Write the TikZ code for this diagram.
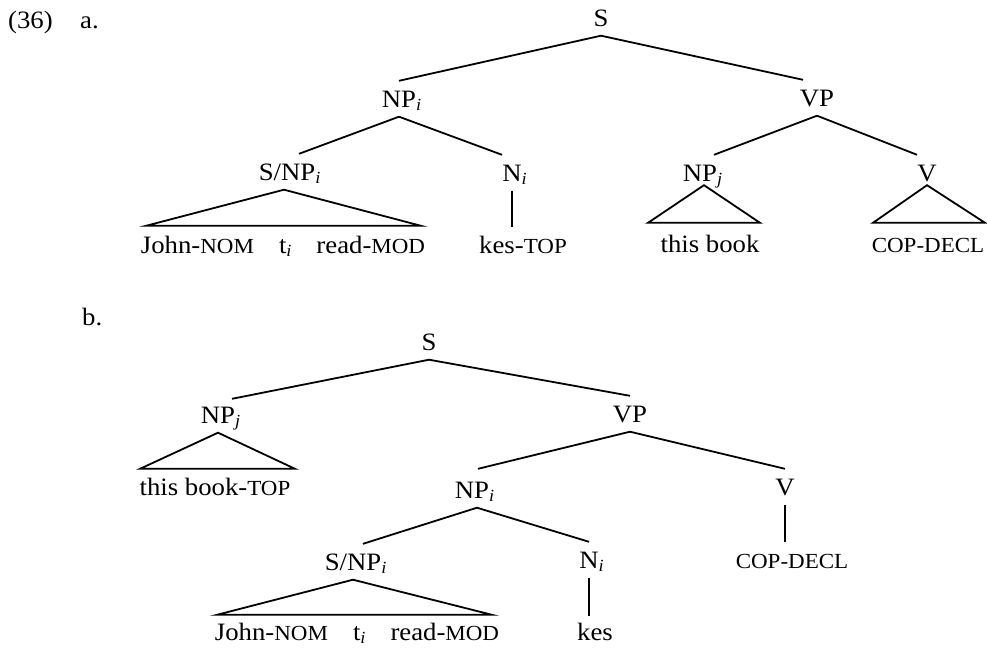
\documentclass[tikz,border=0pt]{standalone}
\usepackage{fontspec}
\setmainfont[FakeStretch=1.07]{Liberation Serif}
\newcommand{\smc}[1]{{\fontsize{21.5}{21.5}\selectfont #1}}
\newcommand{\mysub}[1]{\raisebox{-3.5pt}{\fontsize{17}{17}\selectfont\itshape #1}}
\newcommand{\rsub}[1]{\rlap{\mysub{#1}}}
\begin{document}
\begin{tikzpicture}[x=1pt,y=-1pt,
  every node/.style={font=\fontsize{25}{25}\selectfont, inner xsep=0pt, inner ysep=9.5pt,
    text height=16.5pt, text depth=0pt, anchor=base},
  leaf/.style={inner ysep=0pt, text height=26pt, text depth=0pt},
  branch/.style={line width=1.8pt, line join=miter}]
\useasboundingbox (0,0) rectangle (987,648);

% ---------- (36) a.
\node[anchor=base west] (num) at (8,28) {(36)};
\node[anchor=base west] (laba) at (80,28) {a.};

\node (aS)   at (601,26)  {S};
\node (aNPi) at (399,107) {NP\rsub{i}};
\node (aVP)  at (817,106) {VP};
\node (aSNP) at (287,180) {S/NP\rsub{i}};
\node (aNi)  at (512,181) {N\rsub{i}};
\node (aNPj) at (700,181) {NP\rsub{j}};
\node (aV)   at (927,181) {V};
\node[leaf] (aL1)  at (283,253) {John-\smc{NOM}\quad t\mysub{i}\quad read-\smc{MOD}};
\node[leaf] (aL2)  at (523,253) {kes-\smc{TOP}};
\node[leaf] (aL3)  at (710,252) {this book};
\node[leaf] (aL4)  at (928,252) {\smc{COP-DECL}};

\draw[branch] (aS.south) -- (aNPi.north);
\draw[branch] (aS.south) -- ([xshift=-14pt]aVP.north);
\draw[branch] (aNPi.south) -- ([xshift=12pt]aSNP.north);
\draw[branch] (aNPi.south) -- ([xshift=-10pt]aNi.north);
\draw[branch] (aVP.south) -- ([xshift=14pt]aNPj.north);
\draw[branch] (aVP.south) -- ([xshift=-10pt]aV.north);
\draw[branch] ([xshift=-3pt]aSNP.south) -- ([xshift=-137pt,yshift=1pt]aL1.north)
  -- ([xshift=138pt,yshift=1pt]aL1.north) -- cycle;
\draw[branch] (aNi.south) -- (aNi.south |- aL2.north);
\draw[branch] ([xshift=4pt,yshift=5.5pt]aNPj.south) -- ([xshift=-62pt,yshift=3pt]aL3.north)
  -- ([xshift=50pt,yshift=3pt]aL3.north) -- cycle;
\draw[branch] ([yshift=5.5pt]aV.south) -- ([xshift=-55pt,yshift=3pt]aL4.north)
  -- ([xshift=57pt,yshift=3pt]aL4.north) -- cycle;

% ---------- b.
\node[anchor=base west] (labb) at (82,325) {b.};

\node (bS)   at (429,350) {S};
\node (bNPj) at (218,423) {NP\rsub{j}};
\node (bVP)  at (630,422) {VP};
\node (bNPi) at (472,498) {NP\rsub{i}};
\node (bV)   at (785,495) {V};
\node (bSNP) at (353,570) {S/NP\rsub{i}};
\node (bNi)  at (589,568) {N\rsub{i}};
\node[leaf] (bL1)  at (215,495) {this book-\smc{TOP}};
\node[leaf] (bL2)  at (357,640) {John-\smc{NOM}\quad t\mysub{i}\quad read-\smc{MOD}};
\node[leaf] (bL3)  at (792,568) {\smc{COP-DECL}};
\node[leaf] (bL4)  at (595,640) {kes};

\draw[branch] (bS.south) -- ([xshift=14pt,yshift=-2pt]bNPj.north);
\draw[branch] (bS.south) -- (bVP.north);
\draw[branch] (bNPj.south) -- ([xshift=-75pt]bL1.north) -- ([xshift=80pt]bL1.north) -- cycle;
\draw[branch] (bVP.south) -- ([xshift=6pt,yshift=3pt]bNPi.north);
\draw[branch] (bVP.south) -- (bV.north);
\draw[branch] (bV.south) -- (bV.south |- bL3.north);
\draw[branch] ([xshift=5pt]bNPi.south) -- ([xshift=10pt]bSNP.north);
\draw[branch] ([xshift=5pt]bNPi.south) -- (bNi.north);
\draw[branch] (bSNP.south) -- ([xshift=-140pt,yshift=-1pt]bL2.north)
  -- ([xshift=135pt,yshift=-1pt]bL2.north) -- cycle;
\draw[branch] (bNi.south) -- ([yshift=-2pt]bNi.south |- bL4.north);
\end{tikzpicture}
\end{document}
